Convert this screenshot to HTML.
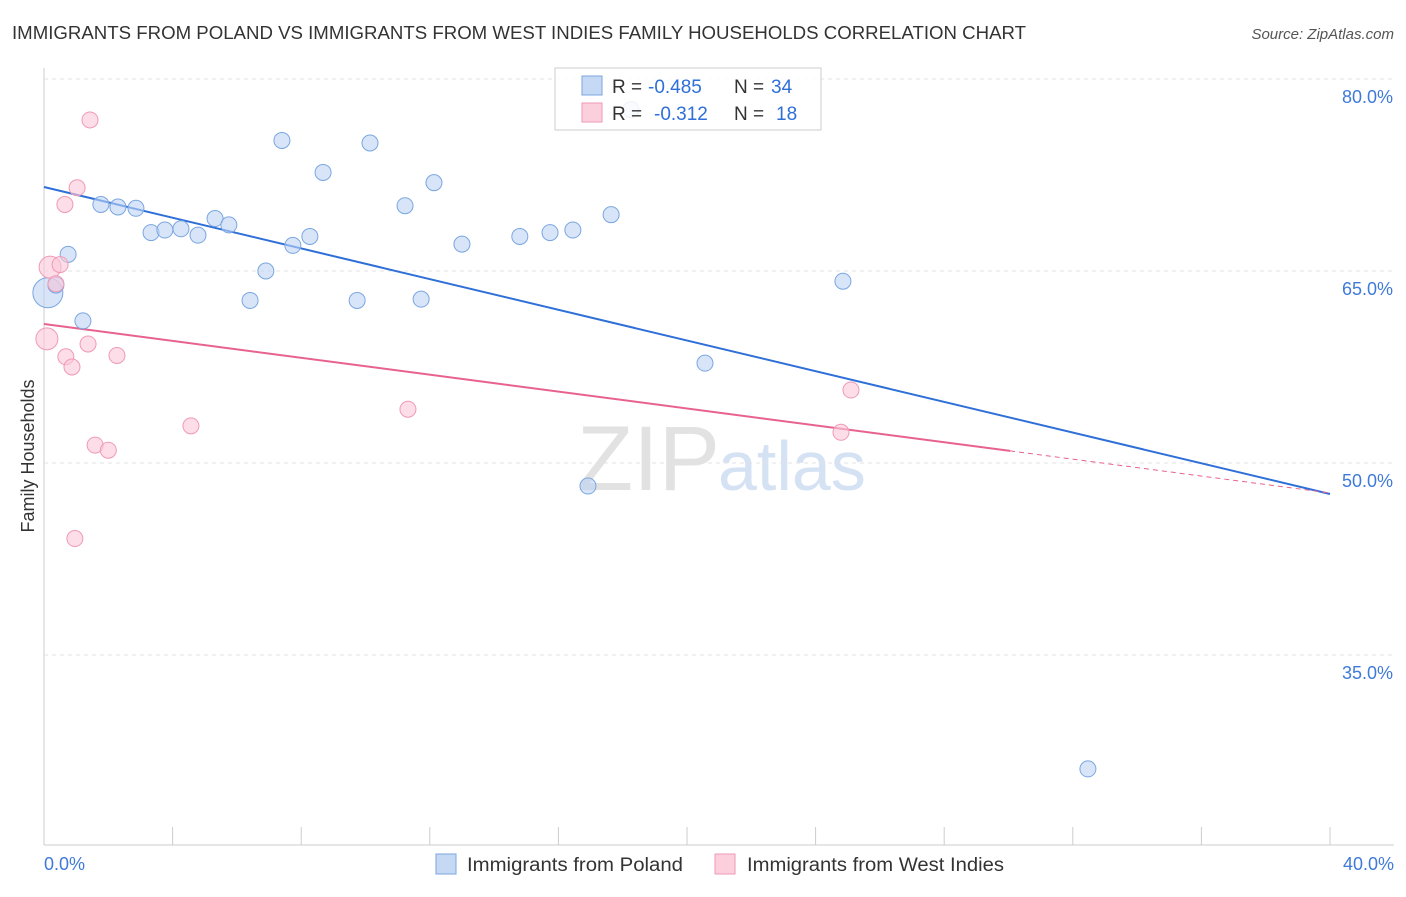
<!DOCTYPE html>
<html><head><meta charset="utf-8"><style>
body{margin:0;background:#fff;font-family:"Liberation Sans",sans-serif;}
svg text{font-family:"Liberation Sans",sans-serif;}
</style></head><body>
<svg id="c" width="1406" height="892">
<text x="12" y="39" font-size="18" fill="#333" textLength="1014" lengthAdjust="spacingAndGlyphs">IMMIGRANTS FROM POLAND VS IMMIGRANTS FROM WEST INDIES FAMILY HOUSEHOLDS CORRELATION CHART</text>
<text x="1394" y="39" font-size="15" fill="#555" font-style="italic" text-anchor="end">Source: ZipAtlas.com</text>
<text x="720" y="490" font-size="92" fill="#e2e2e2" text-anchor="end" font-family="Liberation Serif">ZIP</text>
<text x="718" y="490" font-size="70" fill="#d4e2f4">atlas</text>
<text transform="translate(34,456) rotate(-90)" font-size="18" fill="#333" text-anchor="middle">Family Households</text>
<g id="grid"></g><g id="lines"></g><g id="pts"></g>
<g>
<rect x="555" y="68" width="266" height="62" fill="#fff" fill-opacity="0.85" stroke="#ccc"/>
<rect x="582" y="76" width="20" height="19" fill="#c5d9f5" stroke="#7aa6e0"/>
<rect x="582" y="103" width="20" height="19" fill="#fbcfdc" stroke="#ef9ab4"/>
<text x="612" y="93" font-size="19" fill="#333">R =</text>
<text x="648" y="93" font-size="19" fill="#2e6fd8">-0.485</text>
<text x="734" y="93" font-size="19" fill="#333">N =</text>
<text x="771" y="93" font-size="19" fill="#2e6fd8">34</text>
<text x="612" y="120" font-size="19" fill="#333">R =</text>
<text x="654" y="120" font-size="19" fill="#2e6fd8">-0.312</text>
<text x="734" y="120" font-size="19" fill="#333">N =</text>
<text x="776" y="120" font-size="19" fill="#2e6fd8">18</text>
</g>
<g>
<rect x="436" y="854" width="20" height="20" fill="#c5d9f5" stroke="#7aa6e0"/>
<text x="467" y="871" font-size="19" fill="#333" textLength="216" lengthAdjust="spacingAndGlyphs">Immigrants from Poland</text>
<rect x="715" y="854" width="20" height="20" fill="#fbcfdc" stroke="#ef9ab4"/>
<text x="747" y="871" font-size="19" fill="#333" textLength="257" lengthAdjust="spacingAndGlyphs">Immigrants from West Indies</text>
</g>
</svg>
<script>
const xTicksLbl=["0.0%","40.0%"];
const yTicks=[80,65,50,35];
const bluePts=[[0.12,63.3],[0.75,66.3],[1.21,61.1],[1.77,70.2],[2.3,70.0],[2.86,69.9],[3.33,68.0],[3.76,68.2],[4.26,68.3],[4.79,67.8],[5.32,69.1],[5.75,68.6],[6.41,62.7],[6.9,65.0],[7.4,75.2],[7.74,67.0],[8.27,67.7],[8.68,72.7],[9.74,62.7],[10.14,75.0],[11.23,70.1],[11.73,62.8],[12.13,71.9],[13.0,67.1],[14.8,67.7],[15.74,68.0],[16.45,68.2],[16.92,48.2],[17.64,69.4],[18.26,77.6],[20.56,57.8],[24.85,64.2],[32.47,26.1],[0.37,63.9]];
const pinkPts=[[1.43,76.8],[1.03,71.5],[0.65,70.2],[0.19,65.3],[0.5,65.5],[0.37,64.0],[0.09,59.7],[0.68,58.3],[0.87,57.5],[1.37,59.3],[2.27,58.4],[4.57,52.9],[1.59,51.4],[2.0,51.0],[0.96,44.1],[11.32,54.2],[25.1,55.7],[24.79,52.4]];
const blueLine=[71.56,47.58];
const pinkLine=[60.86,47.66];
const pinkSolidEnd=30.05;
const X=v=>44+v*32.15, Y=v=>463-(v-50)*12.8;
const NS="http://www.w3.org/2000/svg";
function mk(t,a,p){const e=document.createElementNS(NS,t);for(const k in a)e.setAttribute(k,a[k]);document.getElementById(p).appendChild(e);return e;}
let e=mk("line",{x1:44,x2:44,y1:68,y2:845,stroke:"#ccc"},"grid");


e=mk("line",{x1:44,x2:1394,y1:845,y2:845,stroke:"#ccc"},"grid");


for(let i=0;i<=10;i++){e=mk("line",{x1:X(i*4),x2:X(i*4),y1:827,y2:845,stroke:"#ccc"},"grid");

}
yTicks.forEach(v=>{e=mk("line",{x1:44,x2:1394,y1:Y(v),y2:Y(v),stroke:"#e3e3e3","stroke-dasharray":"4,4"},"grid");


const t=mk("text",{x:1393,y:Y(v)+24,"font-size":18,fill:"#3f7ad9","text-anchor":"end"},"grid");t.textContent=v.toFixed(1)+"%";

});
[[0,"start",44],[1,"end",1394]].forEach(([i,a,x])=>{const t=mk("text",{x:x,y:870,"font-size":18,fill:"#3f7ad9","text-anchor":a},"grid");t.textContent=xTicksLbl[i];

});
e=mk("line",{x1:X(0),y1:Y(blueLine[0]),x2:X(40),y2:Y(blueLine[1]),stroke:"#2e6fd8","stroke-width":2},"lines");


const py=x=>pinkLine[0]+(pinkLine[1]-pinkLine[0])*x/40;
e=mk("line",{x1:X(0),y1:Y(py(0)),x2:X(pinkSolidEnd),y2:Y(py(pinkSolidEnd)),stroke:"#e8628e","stroke-width":2},"lines");


e=mk("line",{x1:X(pinkSolidEnd),y1:Y(py(pinkSolidEnd)),x2:X(40),y2:Y(py(40)),stroke:"#e8628e","stroke-width":1,"stroke-dasharray":"5,4"},"lines");


bluePts.forEach((p,i)=>{e=mk("circle",{cx:X(p[0]),cy:Y(p[1]),r:i==0?15:8,fill:"rgba(190,212,245,0.6)",stroke:"#7aa6e0","stroke-width":1},"pts");

});
pinkPts.forEach((p,i)=>{e=mk("circle",{cx:X(p[0]),cy:Y(p[1]),r:(i==3||i==6)?11:8,fill:"rgba(251,200,216,0.6)",stroke:"#ef9ab4","stroke-width":1},"pts");

});
</script>
</body></html>
